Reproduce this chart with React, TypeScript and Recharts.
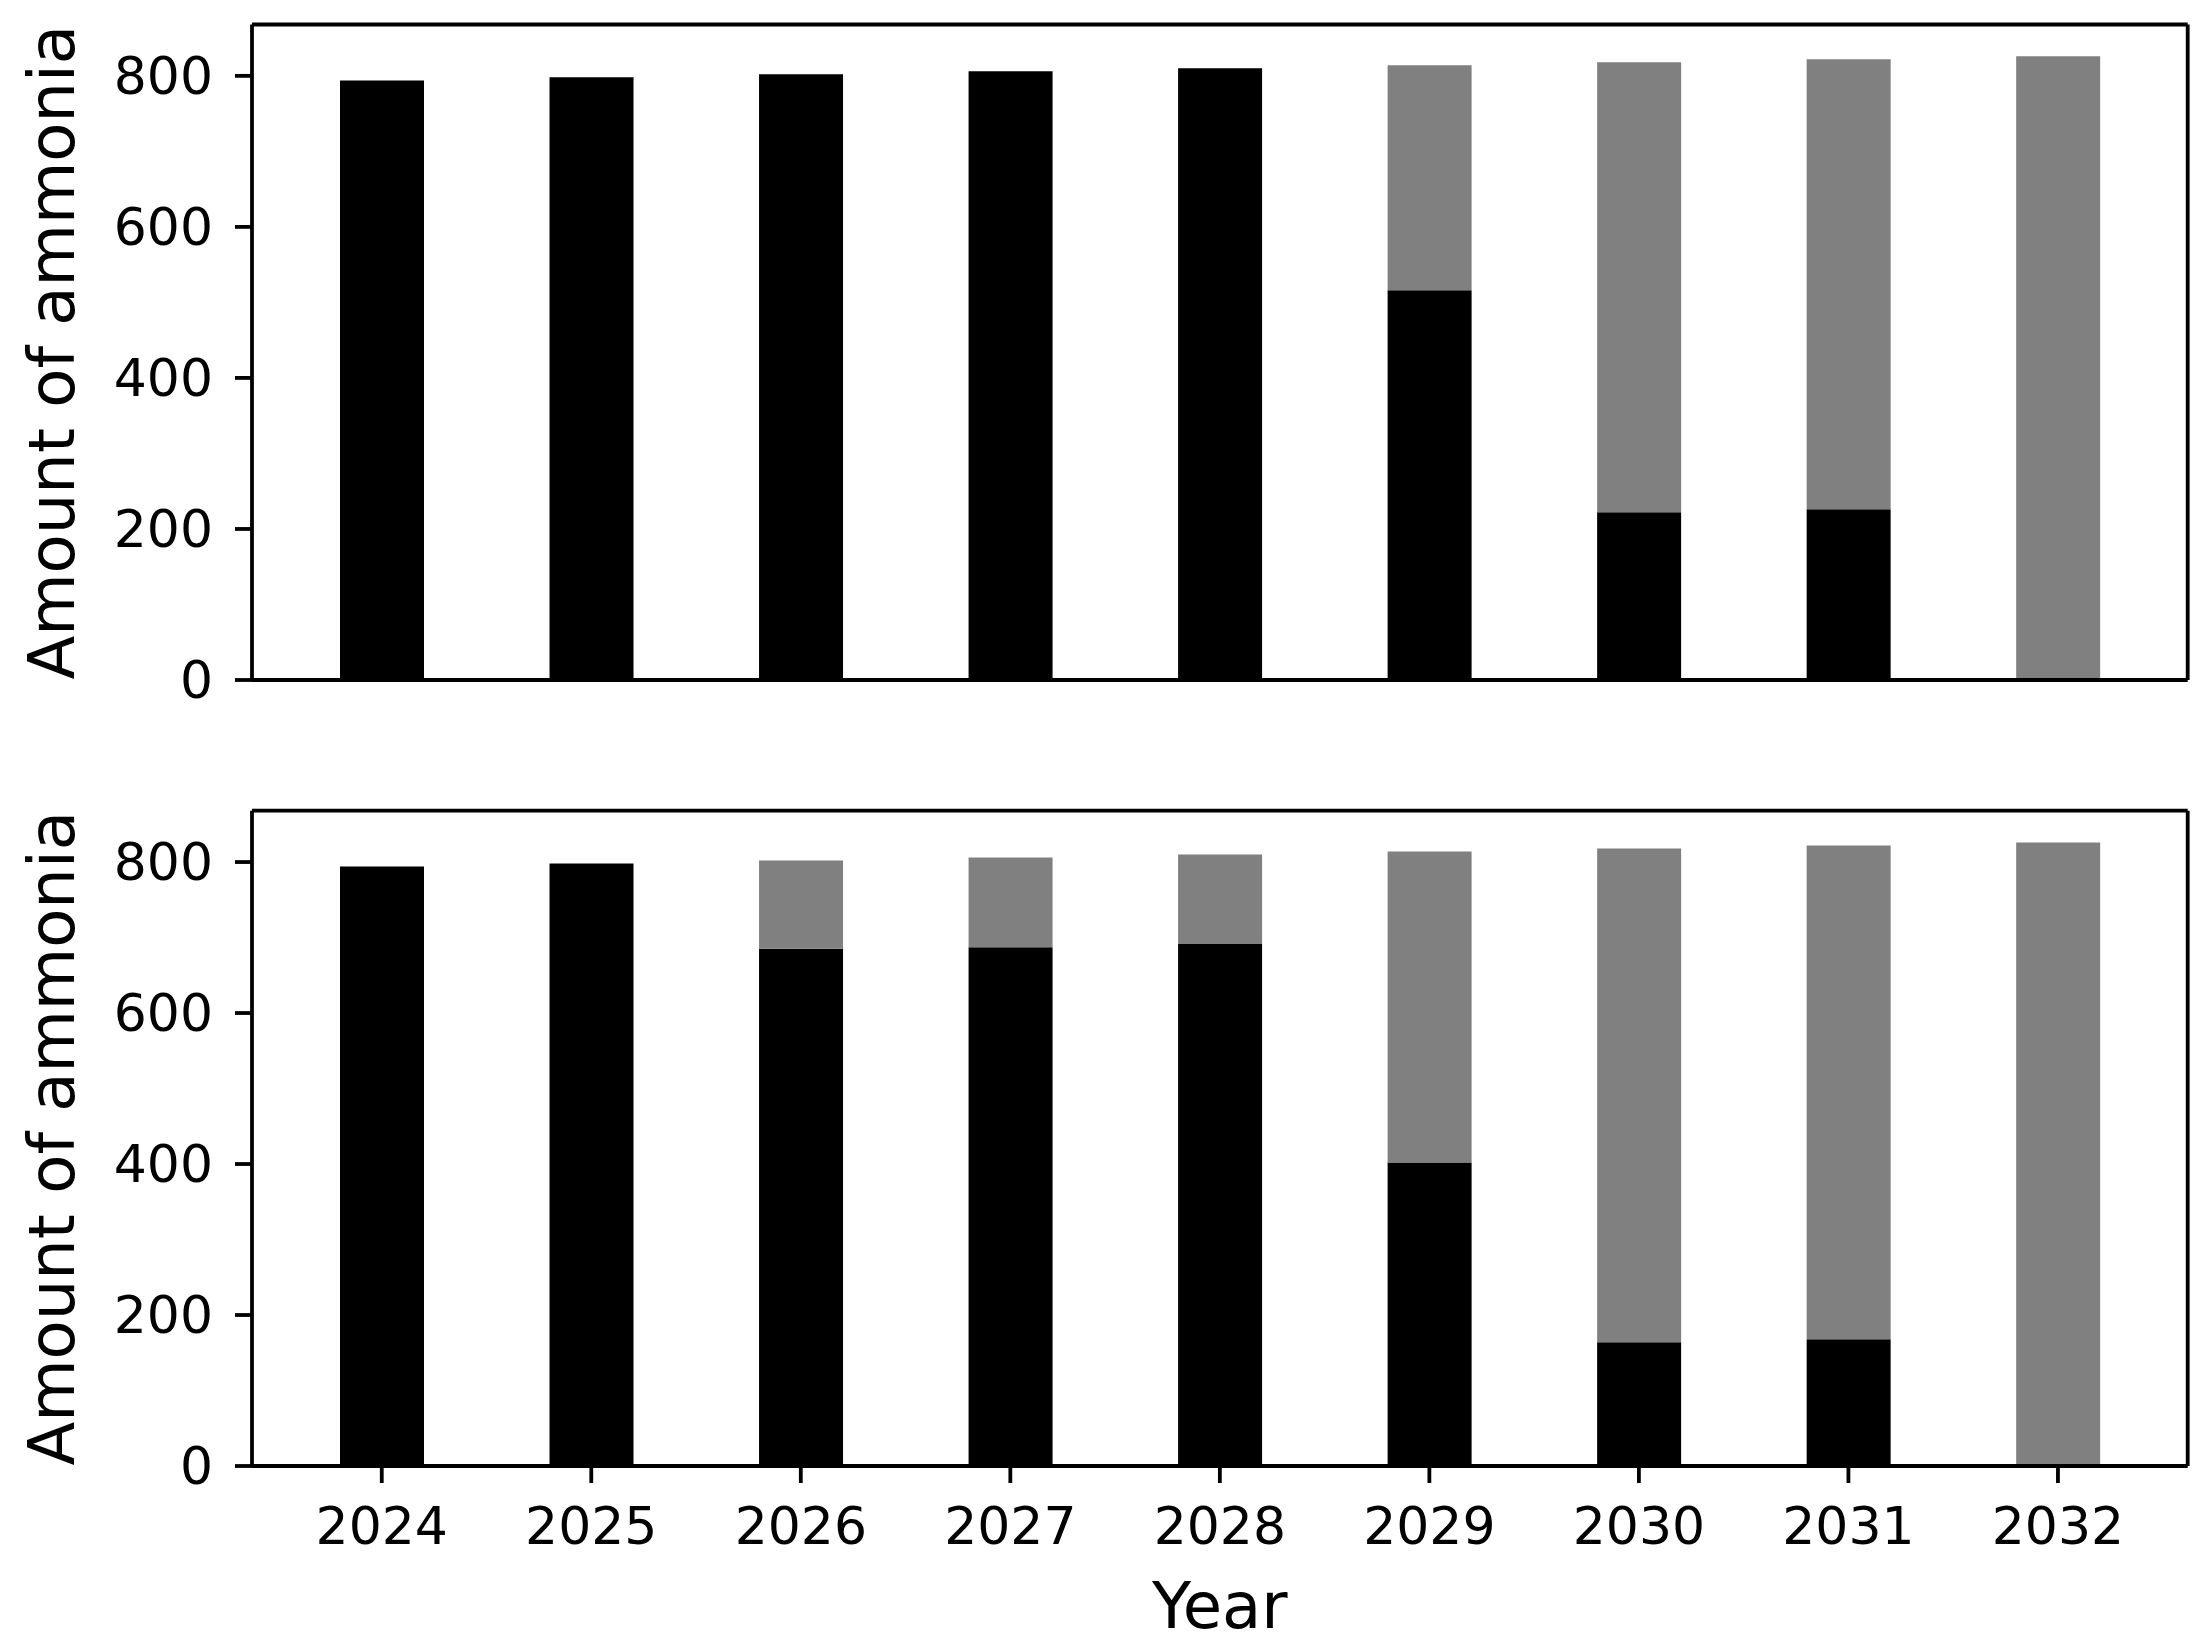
import React from 'react';
import { BarChart, Bar, XAxis, YAxis, Label } from 'recharts';

const years = ['2024', '2025', '2026', '2027', '2028', '2029', '2030', '2031', '2032'];

// upper panel
const topBlack = [794, 798, 802, 806, 810, 516, 222, 226, 0];
const topGray = [0, 0, 0, 0, 0, 298, 596, 596, 826];

// lower panel
const bottomBlack = [794, 798, 685, 687, 692, 402, 164, 168, 0];
const bottomGray = [0, 0, 117, 119, 118, 412, 654, 654, 826];

const yTicks = [0, 200, 400, 600, 800];
const yMax = 868;

const FONT = '"DejaVu Sans", sans-serif';
const LINE = 3.8;

const buildRows = (black: number[], gray: number[]) =>
  years.map((year, i) => ({ year, black: black[i], gray: gray[i] }));

interface PanelProps {
  black: number[];
  gray: number[];
  top: number;
  height: number;
  margin: { top: number; right: number; bottom: number; left: number };
  showX: boolean;
}

const Panel: React.FC<PanelProps> = ({ black, gray, top, height, margin, showX }) => {
  const data = buildRows(black, gray);
  return (
    <div style={{ position: 'absolute', left: 0, top }}>
      <BarChart width={2208} height={height} data={data} margin={margin}>
        <Bar dataKey="black" stackId="a" fill="#000000" barSize={84} isAnimationActive={false} />
        <Bar dataKey="gray" stackId="a" fill="#808080" barSize={84} isAnimationActive={false} />
        <XAxis
          dataKey="year"
          interval={0}
          padding={{ left: 25, right: 25 }}
          height={showX ? 185 : 1}
          axisLine={{ stroke: '#000', strokeWidth: LINE }}
          tickLine={showX ? { stroke: '#000', strokeWidth: LINE } : false}
          tick={showX ? { fontSize: 52, fill: '#000', fontFamily: FONT } : false}
          tickSize={17}
          tickMargin={24}
        >
          {showX && (
            <Label value="Year" position="insideBottom" offset={23}
              style={{ fontSize: 64, fill: '#000', fontFamily: FONT }} />
          )}
        </XAxis>
        {/* top spine */}
        <XAxis
          xAxisId="frameTop"
          dataKey="year"
          orientation="top"
          height={1}
          tick={false}
          tickLine={false}
          axisLine={{ stroke: '#000', strokeWidth: LINE }}
        />
        <YAxis
          width={252}
          domain={[0, yMax]}
          ticks={yTicks}
          interval={0}
          axisLine={{ stroke: '#000', strokeWidth: LINE }}
          tickLine={{ stroke: '#000', strokeWidth: LINE }}
          tick={{ fontSize: 52, fill: '#000', fontFamily: FONT }}
          tickSize={17}
          tickMargin={22}
        >
          <Label value="Amount of ammonia" angle={-90} position="insideLeft" offset={51}
            style={{ fontSize: 64, fill: '#000', fontFamily: FONT, textAnchor: 'middle' }} />
        </YAxis>
        {/* right spine */}
        <YAxis
          yAxisId="frameRight"
          orientation="right"
          width={1}
          domain={[0, yMax]}
          tick={false}
          tickLine={false}
          axisLine={{ stroke: '#000', strokeWidth: LINE }}
        />
      </BarChart>
    </div>
  );
};

export default function App() {
  return (
    <div style={{ position: 'absolute', left: 0, top: 0, width: 2208, height: 1651, background: '#fff' }}>
      <Panel black={topBlack} gray={topGray} top={0} height={760}
        margin={{ top: 23.5, right: 19.3, bottom: 79, left: 0 }} showX={false} />
      <Panel black={bottomBlack} gray={bottomGray} top={760} height={891}
        margin={{ top: 49.7, right: 19.3, bottom: 0, left: 0 }} showX={true} />
    </div>
  );
}
